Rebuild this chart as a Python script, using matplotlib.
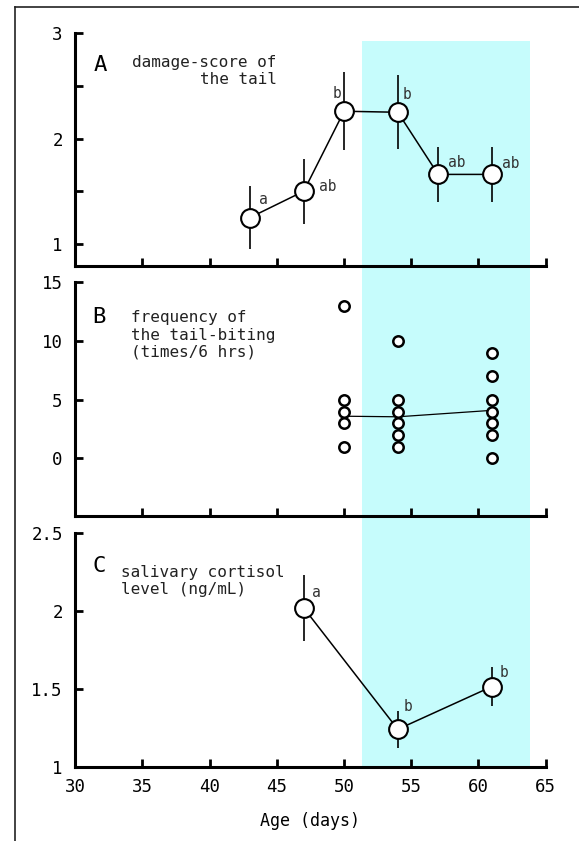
import matplotlib
matplotlib.use("Agg")
import numpy as np
import matplotlib.pyplot as plt
from matplotlib.lines import Line2D

# ---- data ----
age_a = [43, 47, 50, 54, 57, 61]
score_a = [1.25, 1.5, 2.26, 2.25, 1.66, 1.66]
score_err = [0.3, 0.31, 0.37, 0.35, 0.26, 0.26]
letters_a = ['a', 'ab', 'b', 'b', 'ab', 'ab']

age_b = [50, 54, 61]
bite_50 = [13, 5, 4, 3, 1]
bite_54 = [10, 5, 4, 3, 2, 1]
bite_61 = [9, 7, 5, 4, 3, 2, 0]
bite_mean = [3.6, 3.55, 4.1]

age_c = [47, 54, 61]
cortisol = [2.02, 1.24, 1.515]
cortisol_err = [0.21, 0.12, 0.125]
letters_c = ['a', 'b', 'b']

shade_start, shade_end = 51.3, 63.8
age_ticks = [30, 35, 40, 45, 50, 55, 60, 65]

plt.rcParams['font.family'] = 'DejaVu Sans Mono'
cyan = '#c6fcfc'

fig = plt.figure(figsize=(5.79, 8.41), dpi=100)

# frame lines of the original figure box
fig.add_artist(Line2D([0.0259, 0.0259], [0, 0.9913], color='#222222', lw=1.2))
fig.add_artist(Line2D([0.0259, 1.0], [0.9913, 0.9913], color='#222222', lw=1.2))

L, W = 0.130, 0.8124

# shaded period behind all three panels
bg = fig.add_axes([L, 0.0884, W, 0.872], zorder=0)
bg.set_xlim(30, 65)
bg.set_ylim(0, 1)
bg.axis('off')
bg.axvspan(shade_start, shade_end, ymin=0, ymax=0.99, color=cyan, lw=0)


def style(ax, labels=False):
    ax.patch.set_visible(False)
    for s in ['top', 'right']:
        ax.spines[s].set_visible(False)
    for s in ['left', 'bottom']:
        ax.spines[s].set_linewidth(2.2)
    ax.set_xlim(30, 65)
    ax.set_xticks(age_ticks)
    ax.tick_params(which='both', direction='in', length=6, width=2, labelsize=12.5)
    ax.tick_params(axis='y', which='both', pad=9)
    ax.tick_params(axis='x', pad=8, labelbottom=labels)


# ---- A ----
axA = fig.add_axes([L, 0.6837, W, 0.2767], zorder=1)
style(axA)
axA.set_ylim(0.79, 3)
axA.set_yticks([1, 2, 3])
axA.set_yticks([1.5, 2.5], minor=True)
axA.errorbar(age_a, score_a, yerr=score_err, fmt='none', ecolor='black',
             elinewidth=1.2, capsize=0, zorder=2)
axA.plot(age_a, score_a, '-', color='black', lw=1.1, marker='o', ms=13.5,
         mfc='white', mec='black', mew=1.5, zorder=3)
offs_a = [(6.7, 12.7, 'left'), (11, 3.4, 'left'), (-2.2, 13, 'right'),
          (3.2, 13, 'left'), (6.8, 8.4, 'left'), (7.2, 8.1, 'left')]
for x, y, t, (dx, dy, ha) in zip(age_a, score_a, letters_a, offs_a):
    axA.annotate(t, (x, y), xytext=(dx, dy), textcoords='offset points',
                 ha=ha, va='center', fontsize=10.5, color='#333333', zorder=4)
axA.text(0.038, 0.838, 'A', transform=axA.transAxes, fontsize=16, va='baseline')
axA.text(0.428, 0.907, 'damage-score of\nthe tail', transform=axA.transAxes,
         fontsize=11.5, ha='right', va='top', multialignment='right', color='#222222')

# ---- B ----
axB = fig.add_axes([L, 0.3864, W, 0.2779], zorder=1)
style(axB)
axB.set_ylim(-4.9, 15)
axB.set_yticks([0, 5, 10, 15])
axB.plot(age_b, bite_mean, '-', color='black', lw=0.9, zorder=2)
for x, vals in zip(age_b, [bite_50, bite_54, bite_61]):
    axB.plot([x] * len(vals), vals, 'o', ls='none', ms=7.5, mfc='white',
             mec='black', mew=1.8, zorder=3)
axB.text(0.037, 0.825, 'B', transform=axB.transAxes, fontsize=16, va='baseline')
axB.text(0.118, 0.881, 'frequency of\nthe tail-biting\n(times/6 hrs)',
         transform=axB.transAxes, fontsize=11.5, ha='left', va='top', color='#222222')

# ---- C ----
axC = fig.add_axes([L, 0.0884, W, 0.2775], zorder=1)
style(axC, labels=True)
axC.set_ylim(1, 2.5)
axC.set_yticks([1, 1.5, 2, 2.5])
axC.set_yticklabels(['1', '1.5', '2', '2.5'])
axC.errorbar(age_c, cortisol, yerr=cortisol_err, fmt='none', ecolor='black',
             elinewidth=1.2, capsize=0, zorder=2)
axC.plot(age_c, cortisol, '-', color='black', lw=1.1, marker='o', ms=13.5,
         mfc='white', mec='black', mew=1.5, zorder=3)
offs_c = [(5.8, 10.8), (4.3, 16.3), (5.8, 10)]
for x, y, t, (dx, dy) in zip(age_c, cortisol, letters_c, offs_c):
    axC.annotate(t, (x, y), xytext=(dx, dy), textcoords='offset points',
                 ha='left', va='center', fontsize=10.5, color='#333333', zorder=4)
axC.text(0.037, 0.835, 'C', transform=axC.transAxes, fontsize=16, va='baseline')
axC.text(0.0965, 0.864, 'salivary cortisol\nlevel (ng/mL)', transform=axC.transAxes,
         fontsize=11.5, ha='left', va='top', color='#222222')
axC.set_xlabel('Age (days)', fontsize=12, labelpad=12)

fig.savefig('out.png', dpi=100)
